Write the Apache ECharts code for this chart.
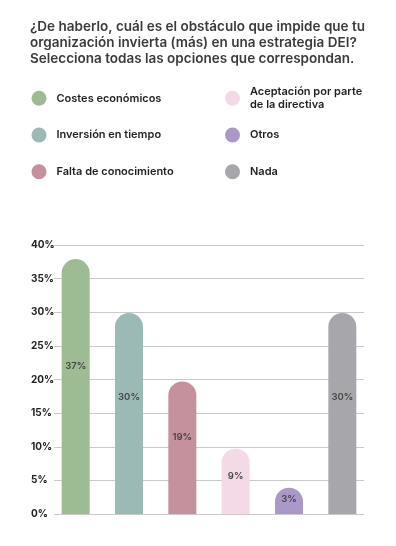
<!DOCTYPE html>
<html>
<head>
<meta charset="utf-8">
<script src="https://cdn.jsdelivr.net/npm/echarts@6/dist/echarts.min.js"></script>
<style>
  html, body { margin: 0; padding: 0; background: #fff; }
  #chart { width: 396px; height: 546px; }
</style>
</head>
<body>
<div id="chart"></div>
<script>
const titleText = "¿De haberlo, cuál es el obstáculo que impide que tu\norganización invierta (más) en una estrategia DEI?\nSelecciona todas las opciones que correspondan.";
const categories = ["Costes económicos", "Inversión en tiempo", "Falta de conocimiento", "Aceptación por parte de la directiva", "Otros", "Nada"];
const values = [37.9, 29.9, 19.7, 9.7, 3.9, 29.9];
const valueLabels = ["37%", "30%", "19%", "9%", "3%", "30%"];
const yTicks = [0, 5, 10, 15, 20, 25, 30, 35, 40];
const colors = ["#9dbc94", "#9bbab6", "#c4919d", "#f4d9e6", "#a998c8", "#a7a6aa"];

const font = "Inter, 'Noto Sans', sans-serif";

// legend slots: two columns, three rows (icon left / icon centre y)
const legendSlots = [
  { left: 31.5, cy: 98.3 },
  { left: 31.5, cy: 135 },
  { left: 31.5, cy: 171.7 },
  { left: 225, cy: 98.3 },
  { left: 225, cy: 135 },
  { left: 225, cy: 171.7 }
];

const chart = echarts.init(document.getElementById("chart"), null, { renderer: "canvas" });

const series = categories.map((name, i) => ({
  name: name,
  type: "bar",
  stack: "all",
  xAxisIndex: 0,
  yAxisIndex: 0,
  barWidth: 28,
  itemStyle: { color: colors[i], borderRadius: [14, 14, 0, 0] },
  label: {
    show: true,
    position: ["50%", "42%"],
    align: "center",
    verticalAlign: "middle",
    fontFamily: font,
    fontSize: 9.5,
    fontWeight: 600,
    color: "#454545",
    formatter: (p) => valueLabels[p.dataIndex]
  },
  data: values.map((v, j) => (j === i ? v : "-"))
}));

const legends = categories.map((name, i) => {
  const twoLine = name.length > 25;
  const slot = legendSlots[i];
  return {
    data: [name],
    left: slot.left,
    top: twoLine ? slot.cy - 12.5 : slot.cy - 7.5,
    padding: 0,
    icon: "circle",
    itemWidth: 15,
    itemHeight: 15,
    selectedMode: false,
    textStyle: {
      fontFamily: font,
      fontSize: 11,
      fontWeight: 600,
      color: "#1f1f1f",
      lineHeight: 12.5,
      padding: [0, 0, 0, 5],
      width: i >= 3 ? 128 : undefined,
      overflow: i >= 3 ? "break" : "none"
    }
  };
});

chart.setOption({
  animation: false,
  backgroundColor: "#ffffff",
  title: {
    text: titleText,
    left: 30,
    top: 19,
    padding: 0,
    textStyle: {
      fontFamily: font,
      fontSize: 13.5,
      fontWeight: 600,
      color: "#3b3b3b",
      lineHeight: 16
    }
  },
  legend: legends,
  grid: [
    { left: 49, right: 27, top: 245, bottom: 32 },
    { left: 54, right: 32, top: 245, bottom: 32 }
  ],
  xAxis: [
    {
      type: "category",
      gridIndex: 0,
      data: categories,
      axisLine: { show: false },
      axisTick: { show: false },
      axisLabel: { show: false }
    },
    {
      type: "category",
      gridIndex: 1,
      data: categories,
      show: false
    }
  ],
  yAxis: [
    {
      type: "value",
      gridIndex: 0,
      min: yTicks[0],
      max: yTicks[yTicks.length - 1],
      show: false
    },
    {
      type: "value",
      gridIndex: 1,
      min: yTicks[0],
      max: yTicks[yTicks.length - 1],
      interval: yTicks[1] - yTicks[0],
      z: 0,
      axisLine: { show: false },
      axisTick: { show: false },
      splitLine: { lineStyle: { color: "#c9c9c9", width: 1 } },
      axisLabel: {
        margin: 23,
        align: "left",
        padding: [0, 0, 6, 0],
        fontFamily: font,
        fontSize: 10,
        fontWeight: 700,
        color: "#222222",
        formatter: (v) => v + "%"
      }
    }
  ],
  series: series
});
</script>
</body>
</html>
